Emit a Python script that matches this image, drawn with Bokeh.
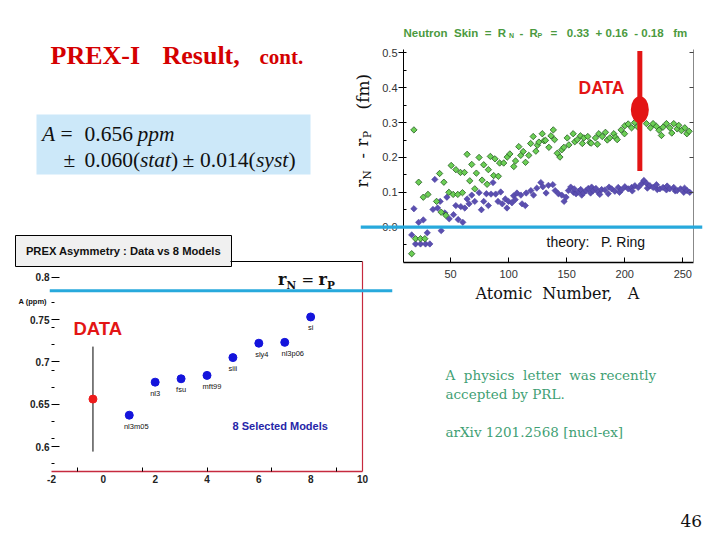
import math
from bokeh.plotting import figure
from bokeh.models import (Range1d, LinearAxis, FixedTicker, CustomJSTickFormatter,
                          PrintfTickFormatter, Span, ColumnDataSource)
from bokeh.core.properties import value
from bokeh.embed import file_html
from bokeh.resources import INLINE

# ---------------- data: PREX asymmetry vs models ----------------
model_names = ["nl3m05", "nl3", "fsu", "mft99", "siii", "sly4", "nl3p06", "si"]
model_index = [1, 2, 3, 4, 5, 6, 7, 8]
model_asym = [0.637, 0.676, 0.680, 0.684, 0.705, 0.722, 0.723, 0.753]
data_index = [-0.4]
data_asym = [0.656]
data_err = [0.062]
asym_rn_eq_rp = 0.784
left_xticks = [-2, 0, 2, 4, 6, 8, 10]
left_xminor = [-1, 1.5, 4, 6.5, 9]
left_yticks = [0.6, 0.65, 0.7, 0.75, 0.8]
left_yminor = [0.58, 0.61, 0.63, 0.67, 0.69, 0.72, 0.74, 0.77]

# ---------------- data: neutron skin vs atomic number ----------------
green_A = [16.6, 18.5, 19.9, 22.6, 24.2, 26.6, 27.9, 30.6, 38.0, 40.6, 42.0, 44.3, 46.0,
           48.6, 50.6, 52.3, 54.6, 56.3, 58.6, 60.3, 62.0, 64.3, 66.6, 68.3, 70.9, 72.3,
           74.6, 77.2, 78.6, 81.5, 82.6, 84.3, 87.2, 88.3, 91.2, 92.3, 95.8,
           98.8, 101.1, 104.5, 106.0, 108.8, 110.5, 112.6, 114.6, 117.4, 119.0, 121.2,
           123.5, 124.8, 126.1, 129.0, 130.5, 131.8, 134.7, 136.5, 138.5, 139.6, 141.9,
           144.2, 145.8, 147.6, 150.5, 151.9, 155.6, 157.0, 159.1, 161.9, 163.5, 164.8,
           168.2, 170.0, 171.1, 174.8, 176.5, 177.7, 180.6, 183.4, 185.0, 187.1, 190.6,
           192.0, 193.5, 196.9, 199.8, 200.1, 203.0, 205.9, 208.5, 211.0, 218.7, 222.1,
           224.4, 227.3, 229.5, 231.6, 233.0, 235.9, 238.8, 240.5, 242.2, 245.1, 246.5,
           248.8, 251.7, 253.5, 255.4]
green_skin = [-0.076, 0.279, -0.033, 0.129, -0.033, 0.086, -0.033, 0.094, 0.074, 0.154,
              0.043, 0.129, 0.034, 0.100, 0.177, 0.094, 0.165, 0.094, 0.157, 0.099, 0.157,
              0.209, 0.133, 0.180, 0.110, 0.155, 0.200, 0.135, 0.179, 0.123, 0.165, 0.203,
              0.148, 0.196, 0.146, 0.184, 0.184,
              0.201, 0.210, 0.174, 0.190, 0.231, 0.206, 0.217, 0.186, 0.206, 0.240, 0.260,
              0.218, 0.235, 0.244, 0.268, 0.248, 0.249, 0.229, 0.262, 0.279, 0.251, 0.212,
              0.201, 0.222, 0.229, 0.256, 0.236, 0.268, 0.245, 0.251, 0.262, 0.240, 0.256,
              0.260, 0.243, 0.241, 0.256, 0.238, 0.268, 0.260, 0.272, 0.250, 0.256, 0.268,
              0.258, 0.251, 0.279, 0.268, 0.291, 0.296, 0.285, 0.300, 0.288, 0.297, 0.285,
              0.297, 0.289, 0.278, 0.263, 0.287, 0.297, 0.285, 0.270, 0.297, 0.282, 0.292,
              0.277, 0.285, 0.268, 0.275]
purple_A = [16.6, 18.5, 19.9, 22.6, 24.2, 26.6, 28.5, 30.0, 32.2, 34.9, 36.5, 38.9, 41.1,
            42.0, 45.2, 46.9, 48.9, 52.6, 54.6, 56.6, 58.9, 60.6, 62.3, 64.3, 66.0, 68.3,
            70.9, 74.6, 76.6, 78.6, 80.9, 82.6, 84.9, 86.6, 88.9, 90.9, 93.2, 94.6,
            97.2, 98.6, 100.0, 102.9, 104.3, 105.7, 107.2, 110.6, 111.6, 114.4, 115.2,
            119.2, 121.5, 124.3, 127.8, 129.5, 132.3, 134.3, 138.1, 140.1, 142.9, 145.8,
            147.8, 149.5, 151.5, 153.5, 155.8, 156.5, 158.1, 160.1, 162.1, 163.0, 164.4,
            166.7, 168.6, 170.6, 171.5, 172.9, 175.2, 177.2, 178.5, 180.1, 183.0, 185.8,
            186.5, 188.7, 191.5, 194.4, 195.5, 197.2, 200.1, 203.0, 205.9, 206.5, 208.7,
            211.6, 214.4, 216.5, 218.7, 219.5, 221.6, 224.4, 227.3, 228.0, 230.2, 233.0,
            235.9, 236.5, 238.8, 242.2, 243.5, 245.1, 248.0, 250.8, 251.5, 253.7, 256.0]
purple_skin = [-0.022, 0.053, -0.048, 0.014, -0.048, 0.021, -0.048, -0.016, -0.048, 0.051,
               0.137, 0.055, 0.074, -0.010, 0.041, 0.086, 0.024, 0.036, 0.062, 0.022, 0.059,
               0.014, 0.055, 0.081, 0.067, 0.092, 0.074, 0.099, 0.050, 0.074, 0.096, 0.062,
               0.095, 0.128, 0.095, 0.074, 0.101, 0.067,
               0.081, 0.055, 0.074, 0.070, 0.090, 0.079, 0.098, 0.092, 0.067, 0.062, 0.098,
               0.105, 0.092, 0.112, 0.128, 0.116, 0.098, 0.120, 0.122, 0.105, 0.096, 0.092,
               0.074, 0.086, 0.105, 0.115, 0.100, 0.110, 0.096, 0.102, 0.108, 0.092, 0.098,
               0.105, 0.111, 0.098, 0.115, 0.105, 0.111, 0.100, 0.094, 0.108, 0.107, 0.096,
               0.115, 0.110, 0.103, 0.114, 0.100, 0.107, 0.116, 0.110, 0.114, 0.104, 0.119,
               0.114, 0.124, 0.134, 0.126, 0.112, 0.119, 0.114, 0.122, 0.108, 0.110, 0.114,
               0.107, 0.118, 0.110, 0.114, 0.104, 0.105, 0.110, 0.100, 0.112, 0.105, 0.100]
pb_A = [213.0]
pb_skin = [0.337]
pb_lo = [0.161]
pb_hi = [0.505]
skin_zero = 0.0
right_xticks = [50, 100, 150, 200, 250]
right_yticks = [0.0, 0.1, 0.2, 0.3, 0.4, 0.5]
right_yminor = [-0.05, 0.05, 0.15, 0.25, 0.35, 0.45]

# ---------------- layout helpers ----------------
W, H = 704, 524      # page area used
OX, OY = 8, 8        # body margin
CYAN = "#27a9dc"
RED = "#e31515"
SANS = "Liberation Sans"
SERIF = "Liberation Serif"
SLAB = "DejaVu Serif"
POS = {"position": "absolute", "left": "%dpx" % OX, "top": "%dpx" % OY}
S = "\u00a0"  # non-collapsing space


def framed(x0, x1, y0, y1, xr, yr):
    p = figure(width=W, height=H, x_range=xr, y_range=yr, output_backend="svg",
               toolbar_location=None, x_axis_type=None, y_axis_type=None,
               min_border_left=int(round(x0 - OX)), min_border_right=int(round(OX + W - x1)),
               min_border_top=int(round(y0 - OY)), min_border_bottom=int(round(OY + H - y1)),
               width_policy="fixed", height_policy="fixed")
    p.background_fill_color = None
    p.border_fill_color = None
    p.outline_line_color = None
    p.styles = dict(POS)
    return p


def add_texts(p, rows, align="left", baseline="middle"):
    cols = dict(x=[], y=[], text=[], font=[], size=[], style=[], color=[], angle=[])
    for r in rows:
        for k, v in zip(["x", "y", "text", "font", "size", "style", "color", "angle"], r):
            cols[k].append(v)
    p.text(x="x", y="y", text="text", text_font="font", text_font_size="size",
           text_font_style="style", text_color="color", angle="angle",
           text_align=align, text_baseline=baseline, source=ColumnDataSource(cols))


def style_axis(ax, size, bold=False, color="#222"):
    ax.major_label_text_font = SANS
    ax.major_label_text_font_size = size
    ax.major_label_text_font_style = "bold" if bold else "normal"
    ax.major_label_text_color = color
    ax.major_tick_line_color = "black"
    ax.minor_tick_line_color = "black"


# ---------------- canvas (slide) ----------------
fC = figure(width=W, height=H, x_range=Range1d(OX, OX + W), y_range=Range1d(OY + H, OY),
            output_backend="svg", toolbar_location=None, x_axis_type=None, y_axis_type=None,
            min_border=0, width_policy="fixed", height_policy="fixed")
fC.outline_line_color = None
fC.background_fill_color = "white"
fC.border_fill_color = "white"
fC.styles = dict(POS)
fC.quad(left=[36], right=[310], top=[114], bottom=[174], fill_color="#cce8f9", line_color=None)
fC.quad(left=[15], right=[231], top=[235], bottom=[266], fill_color="#f0f0f0",
        line_color="black", line_width=1)

txt = "#111111"
GREEN_T = "#4b9a40"
TEAL = "#3f9f74"
FS = "21.5px"
rows = [
    (50, 55, "PREX-I", SERIF, "26px", "bold", "#d40000", 0),
    (162, 55, "Result,", SERIF, "26px", "bold", "#d40000", 0),
    (259, 56, "cont.", SERIF, "21px", "bold", "#d40000", 0),
    (41.5, 133, "A", SERIF, FS, "italic", txt, 0),
    (60, 133, "=", SERIF, FS, "normal", txt, 0),
    (84, 133, "0.656", SERIF, FS, "normal", txt, 0),
    (137, 133, "ppm", SERIF, FS, "italic", txt, 0),
    (63, 159, "\u00b1", SERIF, FS, "normal", txt, 0),
    (84, 159, "0.060(", SERIF, FS, "normal", txt, 0),
    (139.5, 159, "stat", SERIF, FS, "italic", txt, 0),
    (170.6, 159, ")", SERIF, FS, "normal", txt, 0),
    (182, 159, "\u00b1", SERIF, FS, "normal", txt, 0),
    (199.5, 159, "0.014(", SERIF, FS, "normal", txt, 0),
    (255.5, 159, "syst", SERIF, FS, "italic", txt, 0),
    (288, 159, ")", SERIF, FS, "normal", txt, 0),
    (18, 300.7, "A (ppm)", SANS, "7.5px", "bold", txt, 0),
    (73, 327.5, "DATA", SANS, "18.5px", "bold", RED, 0),
    (232, 425.5, "8 Selected Models", SANS, "11px", "bold", "#2626a8", 0),
    (277.5, 279.4, "r", SLAB, "16px", "bold", txt, 0),
    (286, 284.8, "N", SLAB, "10.5px", "bold", txt, 0),
    (301, 279.8, "=", SLAB, "15px", "normal", txt, 0),
    (318, 279.4, "r", SLAB, "16px", "bold", txt, 0),
    (326.5, 284.8, "P", SLAB, "10.5px", "bold", txt, 0),
    (403, 32.5, "Neutron" + S * 2 + "Skin" + S * 2 + "=" + S * 2 + "R", SANS, "11.5px", "bold", GREEN_T, 0),
    (508.5, 35, "N", SANS, "7px", "bold", GREEN_T, 0),
    (519, 32.5, "-", SANS, "11.5px", "bold", GREEN_T, 0),
    (529, 32.5, "R", SANS, "11.5px", "bold", GREEN_T, 0),
    (537, 35, "P", SANS, "7px", "bold", GREEN_T, 0),
    (550, 32.5, "=" + S * 3 + "0.33" + S * 2 + "+" + S + "0.16" + S * 2 + "-" + S + "0.18" + S * 3 + "fm",
     SANS, "11.5px", "bold", GREEN_T, 0),
    (578, 87.3, "DATA", SANS, "17.5px", "bold", RED, 0),
    (546, 241, "theory:" + S * 3 + "P. Ring", SANS, "14px", "normal", txt, 0),
    (475, 293.3, "Atomic" + S * 2 + "Number," + S * 3 + "A", SLAB, "16px", "normal", txt, 0),
    (445, 374.8, "A" + S * 2 + "physics" + S * 2 + "letter" + S * 2 + "was recently", SLAB, "13.5px", "normal", TEAL, 0),
    (445, 393.8, "accepted by PRL.", SLAB, "13.5px", "normal", TEAL, 0),
    (445, 431.8, "arXiv 1201.2568 [nucl-ex]", SLAB, "13.5px", "normal", TEAL, 0),
    (680, 520, "46", SLAB, "17px", "normal", txt, 0),
    # rotated y label of the neutron-skin panel
    (361.5, 187, "r", SLAB, "16px", "normal", txt, math.pi / 2),
    (366.3, 179, "N", SLAB, "10.5px", "normal", txt, math.pi / 2),
    (361.5, 158, "-", SLAB, "16px", "normal", txt, math.pi / 2),
    (361.5, 146, "r", SLAB, "16px", "normal", txt, math.pi / 2),
    (366.3, 137.5, "P", SLAB, "10.5px", "normal", txt, math.pi / 2),
    (362, 109, "(fm)", SLAB, "17px", "normal", txt, math.pi / 2),
]
add_texts(fC, rows)
add_texts(fC, [(123, 250.5, "PREX Asymmetry : Data vs 8 Models", SANS, "11.2px", "bold", txt, 0)],
          align="center")

# ---------------- left panel: asymmetry ----------------
LY0, LY1 = 261, 471
fL = framed(51, 362, LY0, LY1, Range1d(-2, 10), Range1d(0.5705, 0.8185))
ly = LinearAxis(ticker=FixedTicker(ticks=left_yticks, minor_ticks=left_yminor),
                formatter=CustomJSTickFormatter(code="return String(Math.round(tick*100)/100)"))
style_axis(ly, "10px", bold=True)
ly.axis_line_color = None
ly.major_tick_in, ly.major_tick_out = 8, 0
ly.minor_tick_in, ly.minor_tick_out = 3, 0
ly.major_label_standoff = 2
fL.add_layout(ly, "left")

lx = LinearAxis(ticker=FixedTicker(ticks=left_xticks, minor_ticks=left_xminor),
                formatter=CustomJSTickFormatter(code="return String(tick)"))
style_axis(lx, "10px", bold=True)
lx.axis_line_color = "#c62a3e"
lx.axis_line_width = 1.5
lx.major_tick_line_color = None
lx.major_tick_in, lx.major_tick_out = 0, 0
lx.minor_tick_in, lx.minor_tick_out = 4, 0
lx.major_label_standoff = 3
fL.add_layout(lx, "below")

lr = LinearAxis(ticker=FixedTicker(ticks=[]), major_label_text_color=None)
lr.axis_line_color = "#c62a3e"
lr.axis_line_width = 1.2
fL.add_layout(lr, "right")
lt = LinearAxis(ticker=FixedTicker(ticks=[]), major_label_text_color=None, bounds=(4.9, 10))
lt.axis_line_color = "black"
fL.add_layout(lt, "above")

fL.segment(x0=data_index, y0=[a - e for a, e in zip(data_asym, data_err)],
           x1=data_index, y1=[a + e for a, e in zip(data_asym, data_err)],
           line_color="black", line_width=1)
fL.scatter(data_index, data_asym, size=8, fill_color="#ee1c1c", line_color="#ee1c1c")
fL.scatter(model_index, model_asym, size=8, fill_color="#1414dc", line_color="#1414dc")
label_dx = [7, 0, 0, 5, 0, 3, 8, 0]
fL.text(x="x", y="y", text="t", x_offset="dx", y_offset=11,
        source=ColumnDataSource(dict(x=model_index, y=model_asym, t=model_names, dx=label_dx)),
        text_font=value(SANS), text_font_size="7.5px", text_color="#111111",
        text_align="center", text_baseline="middle")

fLO = framed(49, 392, LY0, LY1, Range1d(0, 1), Range1d(0.5705, 0.8185))
fLO.add_layout(Span(location=asym_rn_eq_rp, dimension="width", line_color=CYAN, line_width=3))

# ---------------- right panel: neutron skin ----------------
RY0, RY1 = 49, 262
fR = framed(403, 693, RY0, RY1, Range1d(9.54, 259.2), Range1d(-0.1012, 0.5095))
ry = LinearAxis(ticker=FixedTicker(ticks=right_yticks, minor_ticks=right_yminor),
                formatter=PrintfTickFormatter(format="%.1f"))
style_axis(ry, "11px", color="#333333")
ry.axis_line_color = "black"
ry.major_tick_out, ry.major_tick_in = 5, 3
ry.minor_tick_out, ry.minor_tick_in = 0, 3
ry.major_label_standoff = 1
fR.add_layout(ry, "left")
rx = LinearAxis(ticker=FixedTicker(ticks=right_xticks, minor_ticks=[]))
style_axis(rx, "11px", color="#333333")
rx.axis_line_color = "black"
rx.axis_line_width = 1.5
rx.major_tick_out, rx.major_tick_in = 0, 5
rx.major_label_standoff = 7
fR.add_layout(rx, "below")
rr = LinearAxis(ticker=FixedTicker(ticks=right_yticks, minor_ticks=[]), major_label_text_color=None)
rr.axis_line_color = "#888888"
rr.major_tick_line_color = "#444444"
rr.major_tick_out, rr.major_tick_in = 0, 4
fR.add_layout(rr, "right")

fR.scatter(purple_A, purple_skin, marker="square", angle=math.pi / 4, size=4.5,
           fill_color="#5b4fb0", line_color="#4a3f9e", line_width=0.6)
fR.scatter(green_A, green_skin, marker="square", angle=math.pi / 4, size=4.5,
           fill_color="#6ccf55", line_color="#245c22", line_width=0.8)
fR.segment(x0=pb_A, y0=pb_lo, x1=pb_A, y1=pb_hi, line_color=RED, line_width=5)
fR.ellipse(x=pb_A, y=pb_skin, width=18, height=27, width_units="screen",
           height_units="screen", fill_color=RED, line_color=None)

fRO = framed(360, 702, RY0, RY1, Range1d(0, 1), Range1d(-0.1012, 0.5095))
fRO.add_layout(Span(location=skin_zero, dimension="width", line_color=CYAN, line_width=3.3))

open("out.html", "w").write(file_html([fC, fL, fLO, fR, fRO], INLINE))
